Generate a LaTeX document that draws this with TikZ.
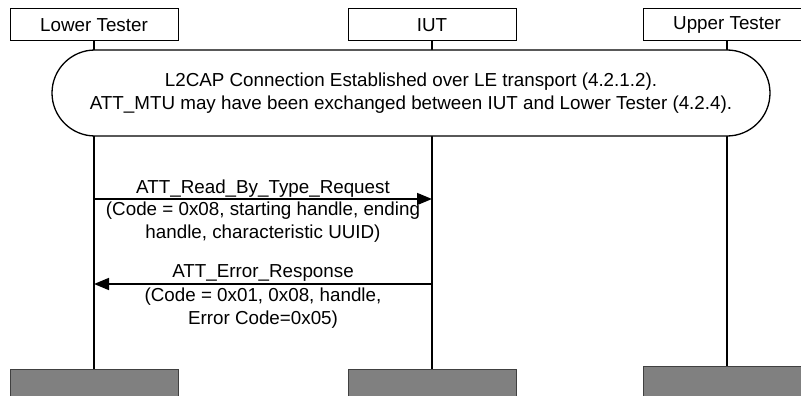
\documentclass[tikz,border=0pt]{standalone}
\usepackage{fontspec}
\setmainfont{Liberation Sans}
\usetikzlibrary{arrows.meta}

\tikzset{
    actor/.style={draw, line width=1pt, minimum width=168pt, minimum height=32pt, inner sep=0pt},
    endbox/.style={draw=black!75, fill=black!50, line width=1pt, minimum width=168pt, minimum height=40pt, inner sep=0pt, anchor=north},
    life/.style={line width=1.6pt},
    msg/.style={line width=1.6pt, -{Triangle[length=15pt, width=12pt]}},
    lbl/.style={align=center, inner sep=0pt},
}

\begin{document}
\begin{tikzpicture}[x=1pt, y=-1pt, font=\fontsize{18.8}{22.5}\selectfont]

        \useasboundingbox (0,0) rectangle (801,396);

        % actors on top, grey boxes at the bottom
        \foreach \name/\x/\yend/\txt in {%
            LT/94/369/Lower Tester,
            IUT/432/369/IUT,
            UT/727/366/Upper Tester%
        }{
            \node[actor] (\name) at (\x, 25) {\txt};
            \node[endbox] (\name end) at (\x, \yend) {};
            \draw[life] (\name.south) -- (\name end.north);
        }

        % precondition
        \node[draw, line width=1.3pt, fill=white, rounded corners=43pt,
              minimum width=718pt, minimum height=86pt, align=center] (pre) at (411, 93)
            {L2CAP Connection Established over LE transport (4.2.1.2).\\
             ATT\_MTU may have been exchanged between IUT and Lower Tester (4.2.4).};

        % request
        \coordinate (reqA) at (LT |- 0,199);
        \coordinate (reqB) at (IUT |- 0,199);
        \draw[msg] (reqA) -- (reqB);
        \node[lbl] (reqname) at (263, 189) {ATT\_Read\_By\_Type\_Request};
        \node[lbl] (reqpar) at (263, 222) {(Code = 0x08, starting handle, ending\\ handle, characteristic UUID)};

        % response
        \coordinate (rspA) at (IUT |- 0,284);
        \coordinate (rspB) at (LT |- 0,284);
        \draw[msg] (rspA) -- (rspB);
        \node[lbl] (rspname) at (263, 273) {ATT\_Error\_Response};
        \node[lbl] (rsppar) at (263, 308) {(Code = 0x01, 0x08, handle,\\ Error Code=0x05)};

    \end{tikzpicture}
\end{document}
